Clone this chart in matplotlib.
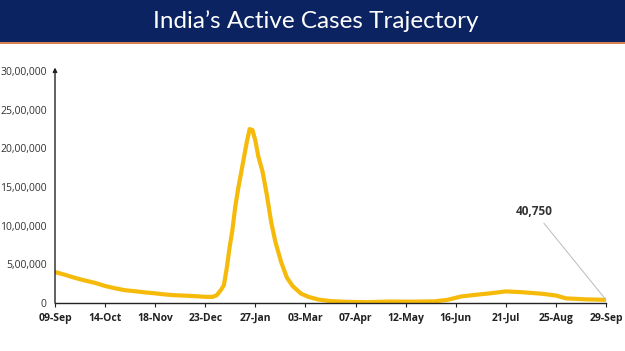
import matplotlib
matplotlib.use("Agg")
import matplotlib.pyplot as plt
import pandas as pd
from matplotlib.patches import Rectangle

dates = ["2021-09-09","2021-09-15","2021-09-22","2021-09-29","2021-10-07","2021-10-14",
         "2021-10-21","2021-10-28","2021-11-05","2021-11-12","2021-11-18","2021-11-25",
         "2021-12-02","2021-12-09","2021-12-16","2021-12-23","2021-12-28","2021-12-31",
         "2022-01-03","2022-01-05","2022-01-07","2022-01-09","2022-01-11","2022-01-13",
         "2022-01-15","2022-01-17","2022-01-19","2022-01-21","2022-01-23","2022-01-25",
         "2022-01-27","2022-01-29","2022-02-01","2022-02-04","2022-02-07","2022-02-10",
         "2022-02-14","2022-02-18","2022-02-22","2022-02-28","2022-03-05","2022-03-12",
         "2022-03-20","2022-04-01","2022-04-15","2022-05-01","2022-05-15","2022-06-01",
         "2022-06-10","2022-06-20","2022-07-01","2022-07-10","2022-07-21","2022-08-01",
         "2022-08-15","2022-08-25","2022-09-01","2022-09-15","2022-09-29"]
active = [400000,370000,330000,295000,260000,220000,
          190000,165000,150000,135000,125000,110000,
          100000,95000,88000,80000,78000,100000,
          170000,230000,450000,720000,950000,1250000,
          1480000,1680000,1880000,2080000,2249000,2236000,
          2100000,1900000,1700000,1400000,1050000,790000,
          530000,330000,220000,120000,80000,45000,
          25000,15000,11000,19000,17000,21000,
          40000,85000,108000,125000,150000,140000,
          120000,97000,60000,47000,40750]
tick_labels = ["09-Sep","14-Oct","18-Nov","23-Dec","27-Jan","03-Mar",
               "07-Apr","12-May","16-Jun","21-Jul","25-Aug","29-Sep"]
y_ticks = [0, 500000, 1000000, 1500000, 2000000, 2500000, 3000000]
y_labels = ["0","5,00,000","10,00,000","15,00,000","20,00,000","25,00,000","30,00,000"]
last_label = "40,750"

start = pd.Timestamp(dates[0])
x = [(pd.Timestamp(d) - start).days for d in dates]

W, H = 625, 351
fig = plt.figure(figsize=(W/100, H/100), dpi=100)
fig.patch.set_facecolor("white")

# banner
fig.patches.append(Rectangle((0, 1-42/H), 1, 42/H, transform=fig.transFigure,
                             facecolor="#0C2362", edgecolor="none", zorder=0))
fig.patches.append(Rectangle((0, 1-44/H), 1, 2/H, transform=fig.transFigure,
                             facecolor="#D9804F", edgecolor="none", zorder=0))
fig.text(0.505, 1-21/H, "India\u2019s Active Cases Trajectory", color="white",
         fontsize=17.5, family="Lato", ha="center", va="center")

ax = fig.add_axes([55/W, 1-303/H, (606-55)/W, (303-71)/H])
ax.plot(x, active, color="#F5BA0A", lw=3.0, solid_capstyle="round", solid_joinstyle="round")
ax.set_xlim(0, 385)
ax.set_ylim(0, 3000000)
ax.set_xticks([i*35 for i in range(len(tick_labels))])
ax.set_xticklabels(tick_labels, fontweight="bold", fontsize=7.5, family="Open Sans", color="#222222")
ax.set_yticks(y_ticks)
ax.set_yticklabels(y_labels, fontsize=7.5, family="Open Sans", color="#333333")
ax.tick_params(axis="y", length=0, pad=6)
ax.tick_params(axis="x", length=3, direction="out", color="#222222", pad=4)
for s in ["top", "right"]:
    ax.spines[s].set_visible(False)
ax.spines["left"].set_visible(False)
ax.spines["bottom"].set_color("#222222")
ax.spines["bottom"].set_linewidth(1.0)
ax.set_facecolor("none")
# y axis with arrow
ax.annotate("", xy=(0, 1.015), xytext=(0, 0), xycoords="axes fraction",
            arrowprops=dict(arrowstyle="-|>", color="#222222", lw=1.0,
                            mutation_scale=6, shrinkA=0, shrinkB=0))

ax.annotate(last_label, xy=(x[-1], active[-1]), xytext=(348, 1180000),
            fontsize=8.5, fontweight="bold", family="Open Sans", color="#333333",
            ha="right", va="center",
            arrowprops=dict(arrowstyle="-", color="#BBBBBB", lw=0.7,
                            shrinkA=2, shrinkB=0))

fig.savefig("out.png", dpi=100)
